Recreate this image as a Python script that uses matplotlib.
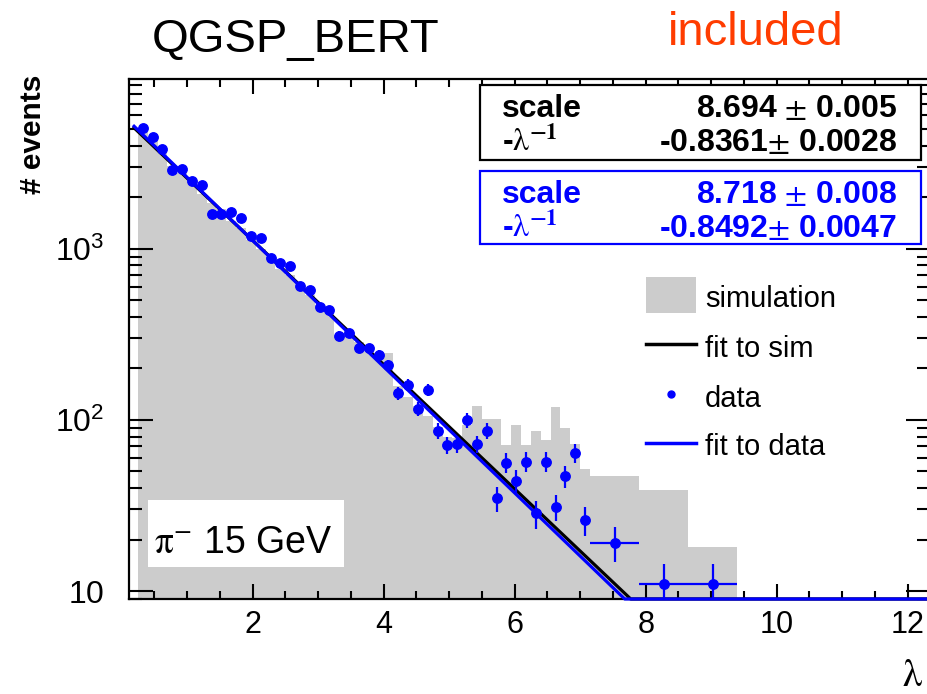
import numpy as np
import matplotlib.pyplot as plt
from matplotlib.patches import Rectangle
from matplotlib.lines import Line2D
from matplotlib.ticker import MultipleLocator, LogLocator, NullFormatter

plt.rcParams['font.family'] = ['Liberation Sans', 'DejaVu Sans']
plt.rcParams['mathtext.fontset'] = 'stix'

# binning: 0.15 wide bins up to 7.15, then three merged 0.75 wide bins
edges = np.append(np.round(np.arange(0.25, 7.16, 0.15), 3), [7.9, 8.65, 9.4])

# simulation histogram (grey)
sim = [4800, 4250, 3800, 3050, 2750, 2450, 2100, 1850, 1700, 1450,
       1330, 1120, 1000, 900, 760, 700, 600, 540, 470, 420,
       307, 330, 285, 255, 245, 245, 157, 136, 120, 105,
       91, 80, 78, 93, 121, 101, 101, 71, 94, 71,
       86, 76, 119, 90, 72, 52,
       47, 39, 18]

# data points (blue)
data = [5080, 4500, 3830, 2870, 2925, 2475, 2370, 1600, 1595, 1645,
        1517, 1180, 1155, 886, 824, 795, 602, 576, 454, 436,
        311, 321, 262, 262, 240, 210, 143, 160, 116, 150,
        86.6, 71.4, 72.4, 100, 72.4, 86.6, 34.8, 56.3, 44.2, 57,
        28.5, 57, 31.1, 47.1, 64.4, 26.0,
        19.2, 11.0, 11.0]

# exponential fits: exp(scale - x/lambda)
fit_sim = (8.694, -0.8361)
fit_data = (8.718, -0.8492)
stat_sim = ['8.694 $\\pm$ 0.005', '-0.8361$\\pm$ 0.0028']
stat_data = ['8.718 $\\pm$ 0.008', '-0.8492$\\pm$ 0.0047']

xticks = [2, 4, 6, 8, 10, 12]
yticks = [10, 100, 1000]
ylabels = ['$\\mathdefault{10}$', '$\\mathdefault{10^{2}}$', '$\\mathdefault{10^{3}}$']

XMIN, XMAX = 0.115, 12.34
YMIN, YMAX = 9, 9800

W, H = 928, 694
fig = plt.figure(figsize=(W / 100, H / 100), dpi=100)
L, R, T, B = 129, 930, 79, 599
ax = fig.add_axes([L / W, 1 - B / H, (R - L) / W, (B - T) / H])


def px(x, y):
    # picture pixel -> axes fraction
    return (x - L) / (R - L), (B - y) / (B - T)


ax.set_yscale('log')
ax.set_xlim(XMIN, XMAX)
ax.set_ylim(YMIN, YMAX)

ax.stairs(sim, edges, baseline=1, fill=True, color='#cccccc', zorder=1)

xf = np.linspace(0.175, XMAX, 800)
for (p0, p1), c in ((fit_sim, 'black'), (fit_data, 'blue')):
    ax.plot(xf, np.maximum(np.exp(p0 + p1 * xf), YMIN), color=c, lw=2.3,
            clip_on=False, zorder=3, solid_capstyle='butt')

centers = 0.5 * (edges[1:] + edges[:-1])
widths = np.diff(edges)
data = np.array(data)
xerr = np.where(widths > 0.2, widths / 2, 0)
ax.errorbar(centers, data, yerr=np.sqrt(data), xerr=xerr, fmt='o', color='blue',
            ms=6.8, elinewidth=1.6, capsize=0, zorder=4)

# axes / ticks
for s in ax.spines.values():
    s.set_linewidth(1.6)
ax.set_xticks(xticks)
ax.xaxis.set_minor_locator(MultipleLocator(0.5))
ax.set_yticks(yticks, ylabels)
ax.yaxis.set_minor_locator(LogLocator(subs=np.arange(2, 10)))
ax.yaxis.set_minor_formatter(NullFormatter())
ax.tick_params(which='both', direction='in', top=True, right=True, width=1.5)
ax.tick_params(axis='x', which='major', length=11, labelsize=22, pad=8)
ax.tick_params(axis='x', which='minor', length=6)
ax.tick_params(axis='y', which='major', length=17, labelsize=23, pad=18)
ax.tick_params(axis='y', which='minor', length=9.5)

# stat boxes
for (y0, y1), col, rows in (((85, 160), 'black', stat_sim),
                            ((171, 244), 'blue', stat_data)):
    x0, yb = px(480, y1)
    x1, yt = px(921, y0)
    ax.add_patch(Rectangle((x0, yb), x1 - x0, yt - yb, transform=ax.transAxes,
                           fc='white', ec=col, lw=1.6, zorder=6, clip_on=False))
    base = [y0 + 32, y0 + 66]
    ax.text(*px(502, base[0]), 'scale', transform=ax.transAxes, color=col,
            fontsize=23, fontweight='bold', va='baseline', zorder=7)
    ax.text(*px(502, base[1]), '-$\\mathrm{\\lambda}^{\\mathbf{-1}}$', transform=ax.transAxes,
            color=col, fontsize=23, fontweight='bold', va='baseline', zorder=7)
    for r, yb_ in zip(rows, base):
        ax.text(*px(897, yb_), r, transform=ax.transAxes, color=col, fontsize=23,
                fontweight='bold', va='baseline', ha='right', zorder=7)

# legend drawn by hand, ROOT style without frame
lx0, lx1 = 646, 696
gx, gy = px(lx0, 313)
gx1, gy1 = px(lx1, 277)
ax.add_patch(Rectangle((gx, gy), gx1 - gx, gy1 - gy, transform=ax.transAxes,
                       fc='#cccccc', ec='none', zorder=6))
for yy, c in ((344, 'black'), (443, 'blue')):
    a, b = px(lx0, yy)
    c2, _ = px(lx1, yy)
    ax.add_line(Line2D([a, c2], [b, b], transform=ax.transAxes, color=c, lw=2.5, zorder=6))
ax.add_line(Line2D([px(671, 394)[0]], [px(671, 394)[1]], transform=ax.transAxes,
                   marker='o', ms=5, color='blue', zorder=6))
for lab, yb_ in (('simulation', 307), ('fit to sim', 357), ('data', 407), ('fit to data', 455)):
    ax.text(*px(705, yb_), lab, transform=ax.transAxes, fontsize=21,
            va='baseline', zorder=7)

# particle label
bx, by = px(148, 567)
bx1, by1 = px(344, 500)
ax.add_patch(Rectangle((bx, by), bx1 - bx, by1 - by, transform=ax.transAxes,
                       fc='white', ec='none', zorder=5))
ax.text(*px(154, 553), '$\\mathrm{\\pi}^{-}$ 15 GeV', transform=ax.transAxes, fontsize=27,
        va='baseline', zorder=6)

# titles and axis labels
fig.text(152 / W, 1 - 52 / H, 'QGSP_BERT', fontsize=34, va='baseline')
fig.text(668 / W, 1 - 45 / H, 'included', fontsize=34, va='baseline', color='#ff3c00')
fig.text(33 / W, 1 - 75 / H, '# events', fontsize=21.5, fontweight='bold',
         rotation=90, ha='center', va='top')
fig.text(913 / W, 1 - 676 / H, '$\\mathrm{\\lambda}$', fontsize=28, ha='center', va='center')

fig.savefig('out.png', dpi=100)
